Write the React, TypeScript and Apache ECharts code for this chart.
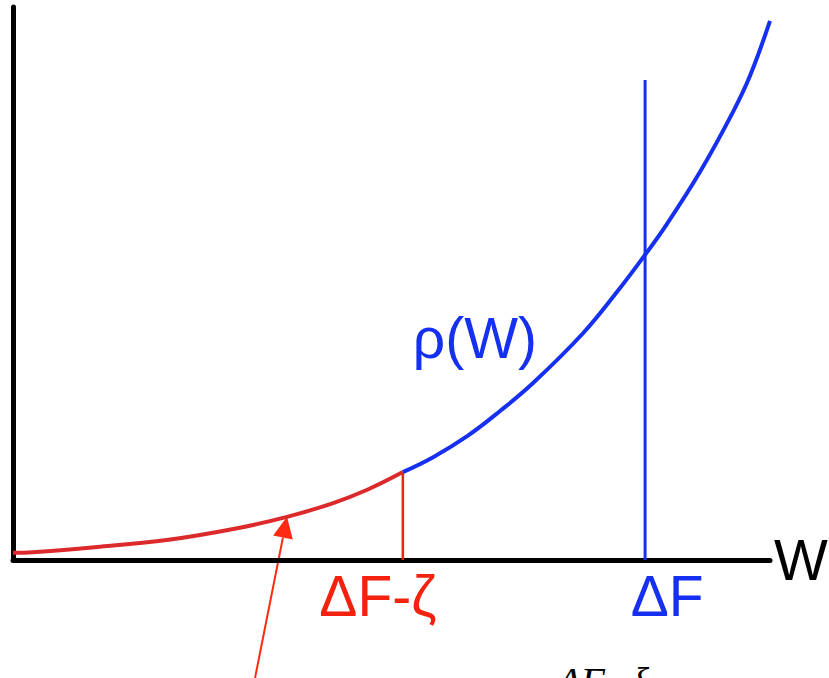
import React, { useEffect, useRef } from "react";
import * as echarts from "echarts";

// Work distribution ρ(W): lower tail (up to ΔF-ζ) in red, the rest in blue
const redW = [0, 0.26, 1.15, 2.03, 2.91, 3.62, 4.23, 4.68, 5.15];
const redRho = [0.13, 0.14, 0.24, 0.36, 0.56, 0.78, 1.03, 1.27, 1.59];
const blueW = [5.15, 5.55, 6.0, 6.43, 6.87, 7.53, 7.98, 8.35, 8.64, 9.08, 9.51, 9.74, 10.0];
const blueRho = [1.59, 1.86, 2.24, 2.69, 3.2, 4.1, 4.85, 5.52, 6.08, 7.03, 8.1, 8.77, 9.75];

// Marker positions on the W axis
const dFZeta = 5.15;
const dF = 8.35;
const dFLineTop = 8.68;

// Point on the red tail the arrow points at
const arrowW = 3.62;
const arrowRho = 0.78;

const RED_CURVE = "#dc2a2c";
const RED = "#f2220f";
const ARROW_RED = "#ff2a12";
const BLUE = "#1530f0";
const SANS = "Liberation Sans, Arial, sans-serif";

export default function App() {
  const ref = useRef<HTMLDivElement>(null);

  useEffect(() => {
    if (!ref.current) return;
    const chart = echarts.init(ref.current, null, { renderer: "svg" });

    const pair = (xs: number[], ys: number[]) => xs.map((x, i) => [x, ys[i]]);

    const labelStyle = {
      show: true,
      fontFamily: SANS,
      fontSize: 57,
    };

    chart.setOption({
      animation: false,
      backgroundColor: "#ffffff",
      grid: { left: 13, right: 59, top: 7, bottom: 118, outerBoundsMode: "none" },
      xAxis: {
        type: "value",
        min: 0,
        max: 10,
        name: "W",
        nameLocation: "end",
        nameGap: 4,
        nameTextStyle: { fontFamily: SANS, fontSize: 57, color: "#000" },
        axisLine: { show: true, lineStyle: { color: "#000", width: 5 } },
        axisTick: { show: false },
        axisLabel: { show: false },
        splitLine: { show: false },
      },
      yAxis: {
        type: "value",
        min: 0,
        max: 10,
        axisLine: { show: true, lineStyle: { color: "#000", width: 5 } },
        axisTick: { show: false },
        axisLabel: { show: false },
        splitLine: { show: false },
      },
      series: [
        {
          type: "line",
          silent: true,
          data: pair([dF, dF], [0, dFLineTop]),
          showSymbol: false,
          lineStyle: { color: BLUE, width: 3 },
        },
        {
          type: "line",
          silent: true,
          data: pair([dFZeta, dFZeta], [0, redRho[redRho.length - 1]]),
          showSymbol: false,
          lineStyle: { color: RED, width: 2.5 },
        },
        {
          type: "line",
          silent: true,
          smooth: 0.4,
          data: pair(blueW, blueRho),
          showSymbol: false,
          lineStyle: { color: BLUE, width: 4 },
        },
        {
          type: "line",
          silent: true,
          smooth: 0.4,
          data: pair(redW, redRho),
          showSymbol: false,
          lineStyle: { color: RED_CURVE, width: 4 },
        },
        {
          type: "scatter",
          silent: true,
          symbolSize: 0,
          clip: false,
          itemStyle: { opacity: 1 },
          data: [
            {
              value: [dFZeta, 0],
              label: {
                ...labelStyle,
                position: "bottom",
                distance: 5,
                offset: [-25, 2],
                formatter: "ΔF-ζ",
                color: RED,
              },
            },
            {
              value: [dF, 0],
              label: {
                ...labelStyle,
                position: "bottom",
                distance: 5,
                offset: [22, 2],
                formatter: "ΔF",
                color: BLUE,
              },
            },
            {
              value: [blueW[4], blueRho[4]],
              label: {
                ...labelStyle,
                position: "left",
                distance: 0,
                offset: [4, -45],
                formatter: "ρ(W)",
                color: BLUE,
              },
            },
          ],
        },
      ],
    });

    // Arrow pointing at the red tail, plus the formula below the plot
    const tip = chart.convertToPixel({ gridIndex: 0 }, [arrowW, arrowRho]) as number[];
    const tail = [tip[0] - 32, 678];
    const dx = tip[0] - tail[0];
    const dy = tip[1] - tail[1];
    const len = Math.hypot(dx, dy);
    const ux = dx / len;
    const uy = dy / len;
    const headLen = 21;
    const halfW = 10;
    const bx = tip[0] - ux * headLen;
    const by = tip[1] - uy * headLen;

    chart.setOption({
      graphic: [
        {
          type: "line",
          silent: true,
          shape: { x1: tail[0], y1: tail[1], x2: bx, y2: by },
          style: { stroke: ARROW_RED, lineWidth: 2 },
        },
        {
          type: "polygon",
          silent: true,
          shape: {
            points: [
              [tip[0], tip[1]],
              [bx - uy * halfW, by + ux * halfW],
              [bx + uy * halfW, by - ux * halfW],
            ],
          },
          style: { fill: ARROW_RED },
        },
        {
          type: "text",
          silent: true,
          x: 557,
          y: 661,
          style: {
            text: "ΔF−ξ",
            fill: "#000",
            font: "italic 40px 'Liberation Serif', 'Times New Roman', serif",
            verticalAlign: "top",
          },
        },
      ],
    });

    return () => chart.dispose();
  }, []);

  return (
    <div
      ref={ref}
      style={{ position: "fixed", left: 0, top: 0, width: 829, height: 678 }}
    />
  );
}
